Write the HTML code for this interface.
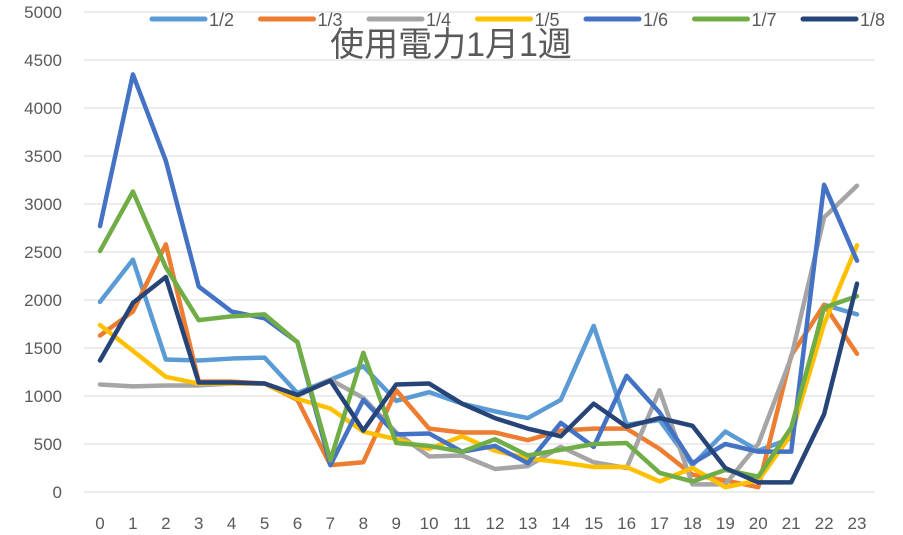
<!DOCTYPE html>
<html><head><meta charset="utf-8"><style>
body{margin:0;background:#fff;}
svg{display:block;font-family:"Liberation Sans","Noto Sans CJK JP",sans-serif;}
</style></head><body>
<svg id="c" width="903" height="535" viewBox="0 0 903 535"></svg>
<script>
const s=document.getElementById('c');
const X=i=>100+i*757/23, Y=v=>492-v*0.096;
let h='';
for(let v=0;v<=5000;v+=500){const y=Y(v);
 h+=`<line x1="84" x2="875" y1="${y}" y2="${y}" stroke="#d9d9d9" stroke-width="1"/>`;
 h+=`<text x="62" y="${y+6}" text-anchor="end" font-size="17" fill="#595959">${v}</text>`;}
for(let i=0;i<24;i++)h+=`<text x="${X(i)}" y="529" text-anchor="middle" font-size="17" fill="#595959">${i}</text>`;
const D=[
["1/2","#5B9BD5",[1980,2420,1380,1370,1390,1400,1030,1170,1310,950,1040,920,840,770,960,1730,700,750,280,630,430,560,1950,1850]],
["1/3","#ED7D31",[1630,1880,2580,1150,1150,1130,960,280,310,1060,660,620,620,540,640,660,660,450,180,120,50,1420,1950,1440]],
["1/4","#A5A5A5",[1120,1100,1110,1110,1130,1130,1000,1170,980,620,370,380,240,270,470,310,250,1060,80,80,500,1400,2860,3190]],
["1/5","#FFC000",[1740,1470,1200,1130,1130,1130,970,870,630,550,450,580,430,350,310,260,260,110,250,50,120,600,1750,2570]],
["1/6","#4472C4",[2770,4350,3450,2140,1880,1810,1560,280,960,600,610,420,480,300,720,470,1210,830,300,500,420,420,3200,2410]],
["1/7","#70AD47",[2510,3130,2340,1790,1830,1850,1560,330,1450,510,480,420,550,380,440,500,510,200,110,230,160,670,1920,2040]],
["1/8","#264478",[1370,1970,2240,1140,1140,1130,1010,1160,640,1120,1130,920,770,660,580,920,680,770,690,250,100,100,810,2170]]];
D.forEach(d=>{h+=`<polyline fill="none" stroke="${d[1]}" stroke-width="4.5" stroke-linejoin="round" stroke-linecap="round" points="${d[2].map((v,i)=>X(i)+','+Y(v)).join(' ')}"/>`;});
D.forEach((d,k)=>{const x=152+k*108.5;
 h+=`<line x1="${x}" x2="${x+53}" y1="19" y2="19" stroke="${d[1]}" stroke-width="5" stroke-linecap="round"/>`;
 h+=`<text x="${x+57}" y="26" font-size="18" fill="#595959">${d[0]}</text>`;});
h+=`<text x="451" y="56" text-anchor="middle" font-size="34" fill="#595959">使用電力1月1週</text>`;
s.innerHTML=h;
</script>
</body></html>
